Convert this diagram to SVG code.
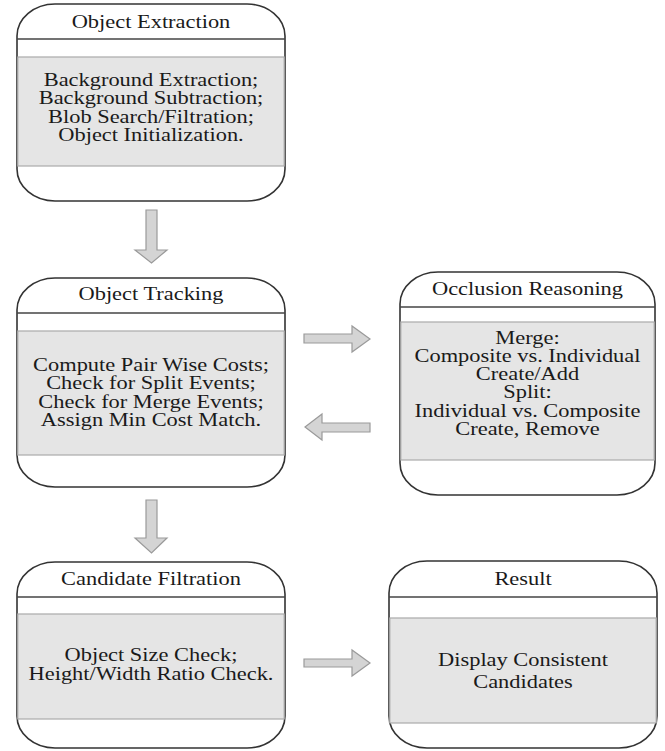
<svg xmlns="http://www.w3.org/2000/svg" width="665" height="751" viewBox="0 0 665 751">
<style>
.frame{fill:#fff;stroke:#333;stroke-width:1.6}
.band{fill:#e5e5e5;stroke:#aaa;stroke-width:1.2}
.hdr{stroke:#444;stroke-width:1.6}
.arr{fill:#d4d4d4;stroke:#9a9a9a;stroke-width:1.2}
text{font-family:"Liberation Serif","Times New Roman",serif;font-size:19px;fill:#1a1a1a;text-anchor:middle}
</style>
<rect width="665" height="751" fill="#fff"/>
<g id="connectors">
<polygon class="arr" points="146,210 157,210 157,250 167,250 151.5,263 135,250 146,250"/>
<polygon class="arr" points="146,500 157,500 157,538 167,538 151.5,553 135,538 146,538"/>
<polygon class="arr" points="304,334 352,334 352,326 370,339 352,352 352,343 304,343"/>
<polygon class="arr" points="370,423 322,423 322,414 305,427 322,440 322,432 370,432"/>
<polygon class="arr" points="304,659 352,659 352,650 370,663 352,676 352,667 304,667"/>
</g>
<g id="object-extraction">
<rect class="frame" x="17" y="4" width="268" height="197" rx="38" ry="32"/>
<rect class="band" x="17.8" y="57" width="266.4" height="109"/>
<line class="hdr" x1="17" y1="39" x2="285" y2="39"/>
<g transform="translate(151,0) scale(1.18,1)">
<text x="0" y="28">Object Extraction</text>
<text x="0" y="86">Background Extraction;</text>
<text x="0" y="104.5">Background Subtraction;</text>
<text x="0" y="123">Blob Search/Filtration;</text>
<text x="0" y="141.5">Object Initialization.</text>
</g>
</g>
<g id="object-tracking">
<rect class="frame" x="17" y="278" width="268" height="209" rx="38" ry="32"/>
<rect class="band" x="17.8" y="331" width="266.4" height="124"/>
<line class="hdr" x1="17" y1="313" x2="285" y2="313"/>
<g transform="translate(151,0) scale(1.18,1)">
<text x="0" y="300">Object Tracking</text>
<text x="0" y="371">Compute Pair Wise Costs;</text>
<text x="0" y="389.5">Check for Split  Events;</text>
<text x="0" y="408">Check for Merge Events;</text>
<text x="0" y="426.5">Assign Min Cost Match.</text>
</g>
</g>
<g id="occlusion-reasoning">
<rect class="frame" x="400" y="272" width="255" height="223" rx="38" ry="32"/>
<rect class="band" x="400.8" y="322" width="253.4" height="138"/>
<line class="hdr" x1="400" y1="307" x2="655" y2="307"/>
<g transform="translate(527.5,0) scale(1.18,1)">
<text x="0" y="295">Occlusion Reasoning</text>
<text x="0" y="344">Merge:</text>
<text x="0" y="362">Composite vs. Individual</text>
<text x="0" y="380">Create/Add</text>
<text x="0" y="398.5">Split:</text>
<text x="0" y="417">Individual vs. Composite</text>
<text x="0" y="435">Create, Remove</text>
</g>
</g>
<g id="candidate-filtration">
<rect class="frame" x="17" y="562" width="268" height="186" rx="38" ry="32"/>
<rect class="band" x="17.8" y="614" width="266.4" height="105"/>
<line class="hdr" x1="17" y1="597" x2="285" y2="597"/>
<g transform="translate(151,0) scale(1.18,1)">
<text x="0" y="585">Candidate Filtration</text>
<text x="0" y="661">Object Size Check;</text>
<text x="0" y="680">Height/Width Ratio Check.</text>
</g>
</g>
<g id="result">
<rect class="frame" x="389" y="561" width="268" height="187" rx="38" ry="32"/>
<rect class="band" x="389.8" y="618" width="266.4" height="105"/>
<line class="hdr" x1="389" y1="597" x2="657" y2="597"/>
<g transform="translate(523,0) scale(1.18,1)">
<text x="0" y="585">Result</text>
<text x="0" y="666">Display Consistent</text>
<text x="0" y="688">Candidates</text>
</g>
</g>
</svg>
